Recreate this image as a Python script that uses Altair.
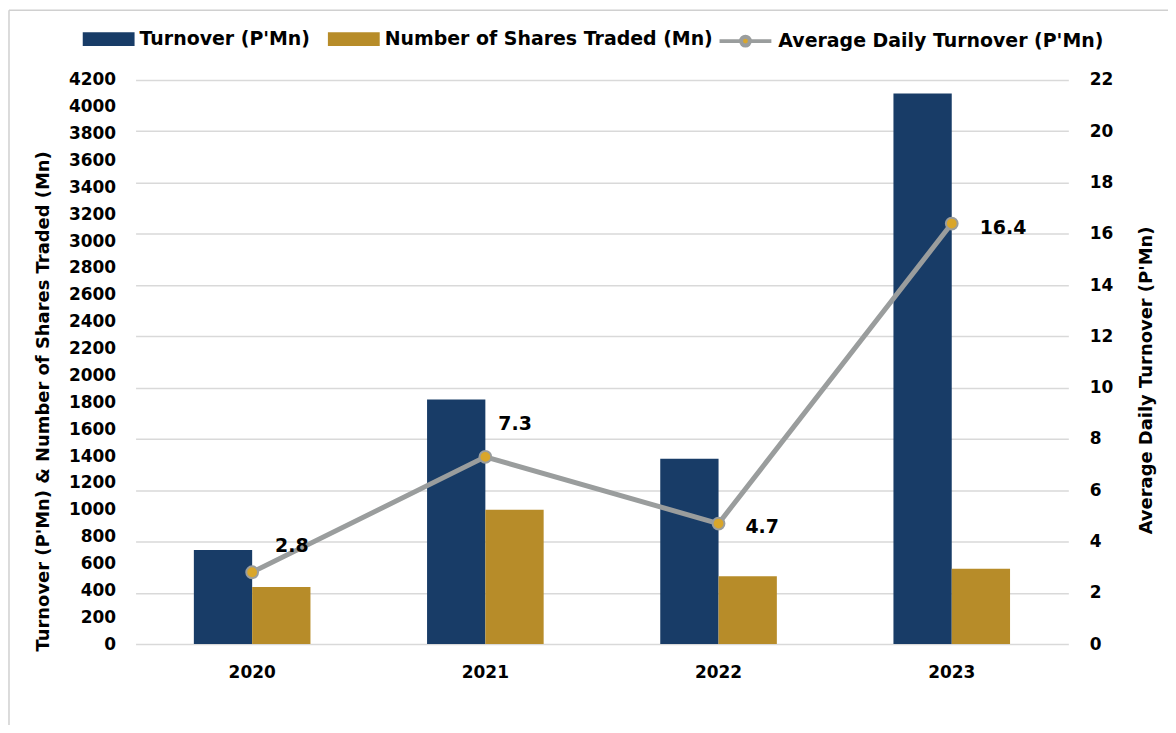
import altair as alt
import pandas as pd

years = ["2020", "2021", "2022", "2023"]
turnover = [700, 1820, 1380, 4100]
shares = [425, 1000, 505, 560]
avg_daily = [2.8, 7.3, 4.7, 16.4]

s_turn = "Turnover (P'Mn)"
s_shares = "Number of Shares Traded (Mn)"
s_avg = "Average Daily Turnover (P'Mn)"

left_ticks = list(range(0, 4201, 200))
right_ticks = list(range(0, 23, 2))

BLUE = "#183c67"
GOLD = "#b78c29"
DOT = "#d9a62b"
LINE = "#9a9d9d"
GRID = "#d9d9d9"
FONT = "DejaVu Sans"

# label offsets (dx, dy) relative to each point
label_offsets = {"2020": (23, -26), "2021": (13, -33), "2022": (27, 3), "2023": (28, 4)}

bars_df = pd.DataFrame({
    "year": years * 2,
    "series": [s_turn] * 4 + [s_shares] * 4,
    "value": turnover + shares,
})
line_df = pd.DataFrame({"year": years, "avg": avg_daily, "lbl": [s_avg] * 4})

x_enc = alt.X(
    "year:N", sort=years,
    scale=alt.Scale(paddingInner=0.5, paddingOuter=0.25),
    axis=alt.Axis(title=None, labelAngle=0, domain=False, ticks=False, grid=False,
                  labelFont=FONT, labelFontSize=17, labelFontWeight="bold",
                  labelColor="#000000", labelPadding=21),
)

rect_path = "M-1,-0.27H1V0.27H-1Z"
line_path = ("M-1,0H-0.17M0.17,0H1M-0.17,0A0.17,0.17 0 1 1 0.17,0"
             "A0.17,0.17 0 1 1 -0.17,0Z")

legend_common = dict(
    orient="none", direction="horizontal", title=None, symbolSize=2704,
    labelFont=FONT, labelFontSize=19, labelFontWeight="bold", labelColor="#000000",
    labelLimit=500, columnPadding=17, labelOffset=5,
)

bar_legend = alt.Legend(legendX=-53, legendY=-67, symbolType=rect_path,
                        symbolStrokeWidth=0, **legend_common)
line_legend = alt.Legend(legendX=584, legendY=-67, symbolType=line_path,
                         symbolFillColor=DOT, symbolStrokeWidth=4, symbolOpacity=1,
                         **legend_common)

one_row = alt.Data(values=[{"a": 1}])
BORDER = "#d0d0d0"
border_left = alt.Chart(one_row).mark_rule(color=BORDER, strokeWidth=1.5).encode(
    x=alt.value(-127), y=alt.value(-70), y2=alt.value(800)
)
border_top = alt.Chart(one_row).mark_rule(color=BORDER, strokeWidth=1.5).encode(
    x=alt.value(-127), x2=alt.value(1200), y=alt.value(-70)
)

bars = alt.Chart(bars_df).mark_bar().encode(
    x=x_enc,
    xOffset=alt.XOffset("series:N", sort=[s_turn, s_shares],
                        scale=alt.Scale(domain=[s_turn, s_shares], paddingInner=0, paddingOuter=0)),
    y=alt.Y("value:Q", scale=alt.Scale(domain=[0, 4200], nice=False),
            axis=alt.Axis(values=left_ticks, format="d", grid=False, domain=False, ticks=False,
                          labelFont=FONT, labelFontSize=17, labelFontWeight="bold",
                          labelColor="#000000", labelPadding=20,
                          title="Turnover (P'Mn) & Number of Shares Traded (Mn)",
                          titleFont=FONT, titleFontSize=18, titleFontWeight="bold",
                          titleColor="#000000", titleAngle=270, titleAlign="center",
                          titleBaseline="middle", titleX=-92, titleY=322)),
    color=alt.Color("series:N",
                    scale=alt.Scale(domain=[s_turn, s_shares], range=[BLUE, GOLD]),
                    legend=bar_legend),
)

y_right = alt.Y("avg:Q", scale=alt.Scale(domain=[0, 22], nice=False),
                axis=alt.Axis(orient="right", values=right_ticks, grid=True, gridColor=GRID,
                              gridWidth=1.5, domain=False, ticks=False,
                              labelFont=FONT, labelFontSize=17, labelFontWeight="bold",
                              labelColor="#000000", labelPadding=21, labelAlign="left",
                              title=s_avg, titleFont=FONT, titleFontSize=18,
                              titleFontWeight="bold", titleColor="#000000", titleAngle=270,
                              titleAlign="center", titleBaseline="middle",
                              titleX=78, titleY=301))

base_line = alt.Chart(line_df).encode(x=x_enc, y=y_right)
line = base_line.mark_line(color=LINE, strokeWidth=5)
points = base_line.mark_point(filled=True, strokeWidth=2, size=140, opacity=1).encode(
    stroke=alt.Stroke("lbl:N", scale=alt.Scale(domain=[s_avg], range=[LINE]), legend=line_legend),
    fill=alt.Fill("lbl:N", scale=alt.Scale(domain=[s_avg], range=[DOT]), legend=line_legend),
)

texts = []
for yr, (dx, dy) in label_offsets.items():
    texts.append(
        base_line.transform_filter(alt.datum.year == yr).mark_text(
            align="left", baseline="middle", dx=dx, dy=dy, font=FONT,
            fontSize=19, fontWeight="bold", color="#000000"
        ).encode(text=alt.Text("avg:Q", format=".1f"))
    )

line_layer = alt.layer(line, points, *texts)

chart = alt.layer(border_left, border_top, bars, line_layer).resolve_scale(
    y="independent"
).properties(
    width=936, height=566,
    autosize=alt.AutoSizeParams(type="none"),
    padding={"left": 128, "top": 71, "right": 100, "bottom": 80},
).configure_view(stroke=None)

chart.save("out.html", embed_options={"renderer": "svg", "actions": False})
